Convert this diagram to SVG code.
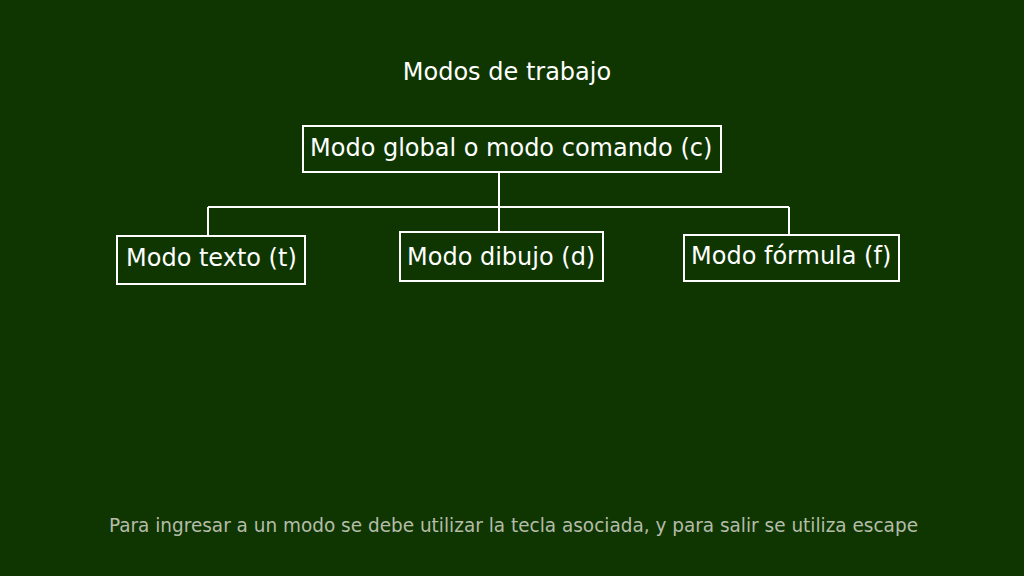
<svg xmlns="http://www.w3.org/2000/svg" width="1024" height="576" viewBox="0 0 1024 576">
<style>
.box{fill:none;stroke:#ffffff;stroke-width:2}
.lbl{font-family:"DejaVu Sans",sans-serif;font-size:24px;fill:#ffffff}
.con{fill:none;stroke:#ffffff;stroke-width:2}
</style>
<rect width="1024" height="576" fill="#0f3600"/>
<text x="507" y="80" class="lbl" style="text-anchor:middle">Modos de trabajo</text>
<g id="connectors">
<path class="con" d="M499,172 V207 M208,207 H789 M208,207 V236 M499,207 V232 M789,207 V235"/>
</g>
<g id="n-global">
<rect class="box" x="303" y="126" width="418" height="46"/>
<text class="lbl" x="310" y="156">Modo global o modo comando (c)</text>
</g>
<g id="n-texto">
<rect class="box" x="117" y="236" width="188" height="48"/>
<text class="lbl" x="126" y="266">Modo texto (t)</text>
</g>
<g id="n-dibujo">
<rect class="box" x="400" y="232" width="203" height="49"/>
<text class="lbl" x="407" y="265">Modo dibujo (d)</text>
</g>
<g id="n-formula">
<rect class="box" x="684" y="235" width="215" height="46"/>
<text class="lbl" x="691" y="264">Modo fórmula (f)</text>
</g>
<text x="109" y="532" textLength="809" lengthAdjust="spacingAndGlyphs" style="font-family:'DejaVu Sans Condensed','DejaVu Sans',sans-serif;font-size:20px;fill:#b4bcaa">Para ingresar a un modo se debe utilizar la tecla asociada, y para salir se utiliza escape</text>
</svg>
